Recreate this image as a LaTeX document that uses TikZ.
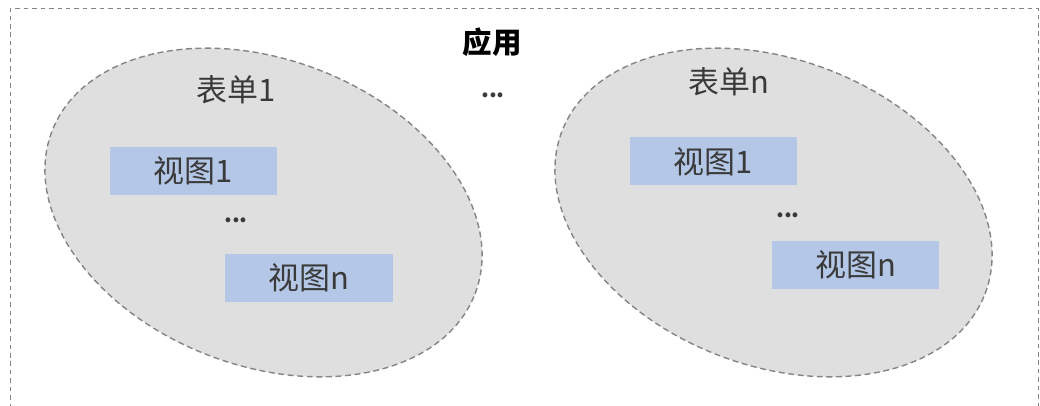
\documentclass[tikz,border=0pt]{standalone}
\usepackage{fontspec}
\setmainfont{Noto Sans CJK SC}
\usepackage{tikz}
\usetikzlibrary{shapes.geometric}

\definecolor{formgray}{HTML}{DFDFDF}
\definecolor{edgegray}{HTML}{858585}
\definecolor{viewblue}{HTML}{B4C7E7}
\definecolor{textgray}{HTML}{3A3A3A}

\tikzset{
 form/.style={ellipse, draw=edgegray, fill=formgray, line width=1pt,
   dash pattern=on 4.2pt off 2.6pt, minimum width=11.33cm, minimum height=7.65cm, rotate=-21},
 view/.style={fill=viewblue, minimum width=4.18cm, minimum height=1.2cm, inner sep=0pt,
   text=textgray, font=\fontsize{22pt}{26pt}\selectfont},
 label/.style={text=textgray, font=\fontsize{22pt}{26pt}\selectfont},
 dots/.style={text=textgray, font=\fontsize{16pt}{18pt}\selectfont\bfseries}
}

\begin{document}
\begin{tikzpicture}
 \useasboundingbox (0,0) rectangle (26,10.125);
 \clip (0,0) rectangle (26,10.125);
 \draw[edgegray, line width=0.7pt, dash pattern=on 3.2pt off 2.8pt] (0.26,-0.5) rectangle (25.95,9.92);
 \node[font=\fontsize{21pt}{25pt}\selectfont\bfseries, text=black] (app) at (12.3,9.075) {应用};
 \node[dots] (appdots) at (12.325,7.75) {...};
 % form 1
 \node[form] (form1) at (6.5875,4.8125) {};
 \node[label] (form1name) at (5.9,7.875) {表单1};
 \node[view] (f1view1) at (4.8375,5.85) {视图1};
 \node[dots] (f1dots) at (5.9,4.62) {...};
 \node[view] (f1viewn) at (7.725,3.1875) {视图n};
 % form n
 \node[form] (formn) at (19.3375,4.8125) {};
 \node[label] (formnname) at (18.225,8.075) {表单n};
 \node[view] (fnview1) at (17.8375,6.0875) {视图1};
 \node[dots] (fndots) at (19.7,4.75) {...};
 \node[view] (fnviewn) at (21.3875,3.5125) {视图n};
\end{tikzpicture}
\end{document}
